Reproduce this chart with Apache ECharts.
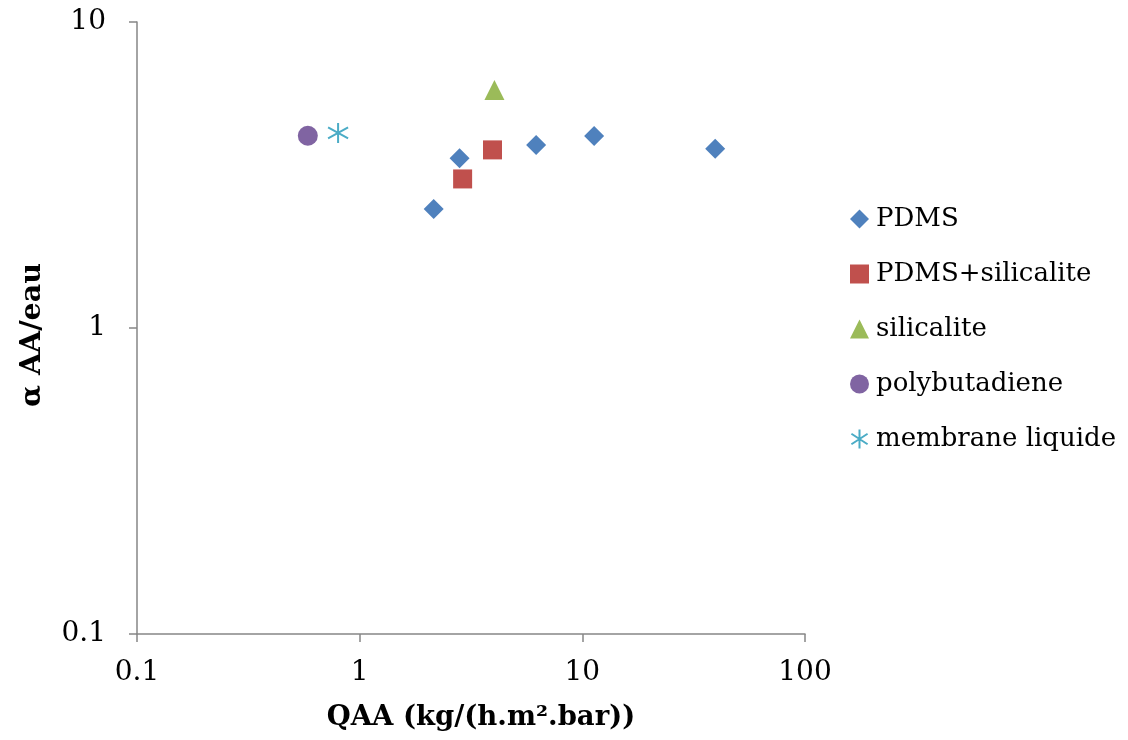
<!DOCTYPE html>
<html><head><meta charset="utf-8">
<script src="https://cdn.jsdelivr.net/npm/echarts@6/dist/echarts.min.js"></script>
<style>html,body{margin:0;padding:0;background:#fff}#c{width:1128px;height:740px}</style>
</head><body><div id="c"></div>
<script>
const seriesNames = ['PDMS','PDMS+silicalite','silicalite','polybutadiene','membrane liquide'];
const pdmsX = [2.15, 2.81, 6.2, 11.3, 39.5];
const pdmsY = [2.45, 3.59, 3.96, 4.24, 3.85];
const pdmsSilX = [2.9, 3.95];
const pdmsSilY = [3.07, 3.82];
const silX = [4.03];
const silY = [6.0];
const polyX = [0.585];
const polyY = [4.25];
const liqX = [0.8];
const liqY = [4.34];
const xTicks = [0.1, 1, 10, 100];
const yTicks = [0.1, 1, 10];

const pair = (xs, ys) => xs.map((x, i) => [x, ys[i]]);
const font = 'DejaVu Serif';
const star = 'path://M10,0L10,20M1.5,4.5L18.5,15.5M1.5,15.5L18.5,4.5';

const chart = echarts.init(document.getElementById('c'), null, {renderer: 'canvas'});
chart.setOption({
  animation: false,
  backgroundColor: '#fff',
  grid: {left: 137, right: 323, top: 22, bottom: 106},
  xAxis: {
    type: 'log', logBase: 10, min: xTicks[0], max: xTicks[xTicks.length-1],
    name: 'QAA (kg/(h.m².bar))', nameLocation: 'middle', nameGap: 70,
    nameTextStyle: {fontFamily: font, fontWeight: 'bold', fontSize: 27.5, color: '#000', padding: [0,0,0,20]},
    axisLine: {lineStyle: {color: '#868686', width: 1.5}},
    axisTick: {show: true, length: 8, lineStyle: {color: '#868686', width: 1.5}},
    minorTick: {show: false}, splitLine: {show: false},
    axisLabel: {fontFamily: font, fontSize: 28, color: '#000', margin: 25,
      formatter: v => String(v)}
  },
  yAxis: {
    type: 'log', logBase: 10, min: yTicks[0], max: yTicks[yTicks.length-1],
    name: 'α AA/eau', nameLocation: 'middle', nameGap: 90, nameRotate: 90,
    nameTextStyle: {fontFamily: font, fontWeight: 'bold', fontSize: 28.5, color: '#000', padding: [0,14,0,0]},
    axisLine: {show: true, lineStyle: {color: '#868686', width: 1.5}},
    axisTick: {show: true, length: 8, lineStyle: {color: '#868686', width: 1.5}},
    minorTick: {show: false}, splitLine: {show: false},
    axisLabel: {fontFamily: font, fontSize: 28, color: '#000', margin: 31,
      formatter: v => String(v)}
  },
  legend: {
    orient: 'vertical', left: 845, top: 199, itemGap: 25,
    itemWidth: 19, itemHeight: 19,
    textStyle: {fontFamily: font, fontSize: 26, lineHeight: 30, color: '#000', padding: [0,0,0,2]},
    data: seriesNames
  },
  series: [
    {name: seriesNames[0], type: 'scatter', symbol: 'diamond', symbolSize: [20, 20],
      itemStyle: {color: '#4F81BD', opacity: 1}, data: pair(pdmsX, pdmsY)},
    {name: seriesNames[1], type: 'scatter', symbol: 'rect', symbolSize: 19,
      itemStyle: {color: '#C0504D', opacity: 1}, data: pair(pdmsSilX, pdmsSilY)},
    {name: seriesNames[2], type: 'scatter', symbol: 'triangle', symbolSize: 20,
      itemStyle: {color: '#9BBB59', opacity: 1}, data: pair(silX, silY)},
    {name: seriesNames[3], type: 'scatter', symbol: 'circle', symbolSize: 20,
      itemStyle: {color: '#8064A2', opacity: 1}, data: pair(polyX, polyY)},
    {name: seriesNames[4], type: 'scatter', symbol: star, symbolSize: 20,
      itemStyle: {color: 'rgba(0,0,0,0)', borderColor: '#4BACC6', borderWidth: 2, opacity: 1},
      data: pair(liqX, liqY)}
  ]
});
</script></body></html>
